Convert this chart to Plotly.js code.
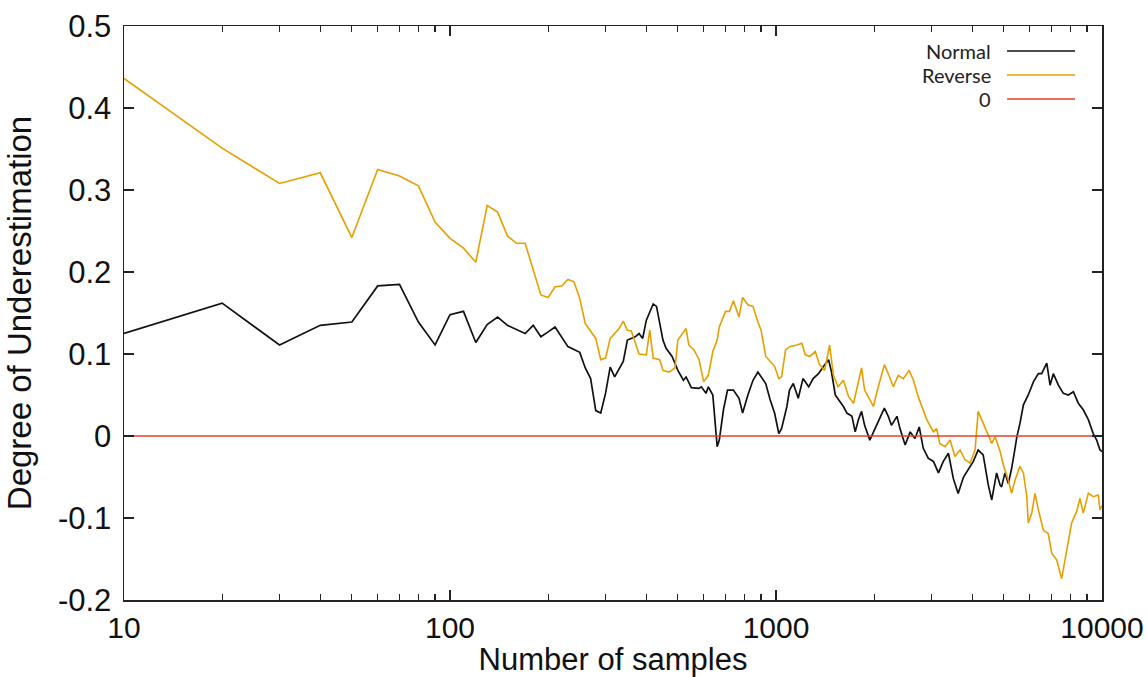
<!DOCTYPE html>
<html>
<head>
<meta charset="utf-8">
<script src="https://cdn.plot.ly/plotly-3.0.1.min.js"></script>
<style>
  html, body { margin: 0; padding: 0; background: #ffffff; }
  #chart { width: 1147px; height: 677px; }
</style>
</head>
<body>
<div id="chart"></div>
<script>
// ---- data ----
const seriesNames = ['Normal', 'Reverse', '0'];

const normalX = [10,20,30,40,50,60,70,80,90,100,
  110,120,130,140,150,160,170,180,190,200,
  210,230,250,260,270,280,290,300,310,320,
  340,350,370,380,390,400,420,430,450,460,
  480,500,520,530,550,580,590,610,620,640,
  660,670,690,710,740,770,790,820,850,880,
  900,930,960,990,1020,1040,1080,1100,1130,1170,
  1210,1260,1300,1350,1400,1450,1480,1520,1570,1610,
  1650,1710,1750,1790,1830,1870,1940,2010,2080,2150,
  2210,2260,2350,2400,2490,2580,2670,2750,2830,2930,
  3040,3150,3260,3380,3500,3620,3760,3890,4030,4170,
  4320,4480,4590,4750,4870,4920,5040,5160,5280,5410,
  5480,5600,5740,5940,6160,6380,6530,6770,6930,7090,
  7350,7610,7880,8170,8460,8760,9080,9400,9630,9860,10000];
const normalY = [0.125,0.162,0.111,0.135,0.139,0.183,0.185,0.139,0.111,0.148,
  0.152,0.114,0.136,0.145,0.135,0.130,0.125,0.135,0.121,0.127,
  0.133,0.109,0.102,0.083,0.070,0.031,0.028,0.052,0.084,0.072,
  0.091,0.117,0.121,0.125,0.119,0.141,0.161,0.158,0.117,0.107,
  0.097,0.080,0.068,0.072,0.059,0.058,0.060,0.052,0.060,0.050,
  -0.013,-0.005,0.032,0.056,0.056,0.046,0.028,0.050,0.068,0.078,
  0.072,0.064,0.044,0.028,0.003,0.009,0.036,0.056,0.064,0.046,
  0.070,0.060,0.070,0.076,0.085,0.093,0.078,0.050,0.042,0.036,
  0.028,0.024,0.005,0.020,0.030,0.013,-0.005,0.009,0.022,0.034,
  0.024,0.013,0.024,0.009,-0.011,0.005,-0.003,0.011,-0.015,-0.027,
  -0.031,-0.045,-0.031,-0.021,-0.052,-0.070,-0.050,-0.041,-0.031,-0.017,
  -0.023,-0.060,-0.078,-0.045,-0.060,-0.062,-0.045,-0.058,-0.040,-0.015,
  -0.001,0.015,0.038,0.050,0.066,0.076,0.076,0.089,0.062,0.076,
  0.062,0.052,0.050,0.054,0.040,0.032,0.020,0.003,-0.005,-0.017,-0.019];

const reverseX = [10,20,30,40,50,60,70,80,90,100,
  110,120,130,140,150,160,170,180,190,200,
  210,220,230,240,250,260,280,290,300,310,
  330,340,350,360,380,400,410,420,440,450,
  470,490,500,530,540,560,580,600,620,640,
  660,670,700,720,740,770,790,820,850,880,
  900,930,960,990,1020,1040,1070,1100,1160,1200,
  1230,1270,1320,1360,1410,1460,1500,1550,1610,1670,
  1730,1790,1830,1870,1940,1990,2040,2110,2150,2210,
  2290,2370,2460,2560,2640,2730,2830,2900,3040,3110,
  3180,3300,3420,3540,3670,3800,3940,4080,4170,4320,
  4430,4590,4700,4870,4980,5160,5280,5410,5600,5740,
  5880,5940,6090,6230,6380,6610,6840,7010,7260,7520,
  7700,7880,8070,8360,8560,8760,9080,9400,9740,9860,10000];
const reverseY = [0.436,0.351,0.308,0.321,0.242,0.325,0.317,0.305,0.261,0.241,
  0.229,0.212,0.281,0.273,0.244,0.235,0.235,0.202,0.172,0.169,
  0.182,0.183,0.191,0.188,0.168,0.137,0.119,0.093,0.095,0.119,
  0.131,0.140,0.129,0.128,0.100,0.099,0.129,0.095,0.093,0.080,
  0.078,0.083,0.117,0.131,0.111,0.105,0.094,0.066,0.074,0.103,
  0.117,0.133,0.152,0.152,0.165,0.145,0.169,0.160,0.158,0.139,
  0.129,0.097,0.091,0.085,0.070,0.072,0.105,0.109,0.111,0.113,
  0.099,0.097,0.103,0.087,0.080,0.111,0.074,0.060,0.068,0.048,
  0.040,0.066,0.083,0.056,0.044,0.036,0.054,0.076,0.087,0.076,
  0.060,0.074,0.070,0.080,0.068,0.048,0.032,0.020,0.005,0.009,
  -0.009,-0.013,-0.005,-0.025,-0.017,-0.029,-0.033,-0.017,0.030,0.015,
  0.005,-0.009,-0.001,-0.019,-0.035,-0.054,-0.070,-0.054,-0.037,-0.045,
  -0.074,-0.106,-0.094,-0.070,-0.090,-0.115,-0.119,-0.143,-0.151,-0.174,
  -0.151,-0.127,-0.106,-0.092,-0.076,-0.094,-0.070,-0.074,-0.072,-0.090,-0.085];

const zeroX = [10, 10000];
const zeroY = [0, 0];

const xTickVals = [10, 100, 1000, 10000];
const xTickText = ['10', '100', '1000', '10000'];
const yTickVals = [-0.2, -0.1, 0, 0.1, 0.2, 0.3, 0.4, 0.5];
const yTickText = ['-0.2', '-0.1', '0', '0.1', '0.2', '0.3', '0.4', '0.5'];

const colors = ['#111111', '#e69f00', '#ec3b2f'];

// minor tick positions on the log axis (2..9 in every decade)
const xMinor = [];
[10, 100, 1000].forEach(d => { for (let k = 2; k <= 9; k++) xMinor.push(k * d); });

const traces = [
  { x: normalX, y: normalY, name: seriesNames[0], type: 'scatter', mode: 'lines',
    line: { color: colors[0], width: 1.7 } },
  { x: reverseX, y: reverseY, name: seriesNames[1], type: 'scatter', mode: 'lines',
    line: { color: colors[1], width: 1.6 } },
  { x: zeroX, y: zeroY, name: seriesNames[2], type: 'scatter', mode: 'lines',
    line: { color: colors[2], width: 1.6 } }
];

// custom legend (text then line, right-aligned like gnuplot)
const legRowsY = [0.9564, 0.9146, 0.8728];
const annotations = seriesNames.map((n, i) => ({
  xref: 'paper', yref: 'paper', x: 0.8875, y: legRowsY[i],
  xanchor: 'right', yanchor: 'middle', text: n, showarrow: false,
  borderpad: 0,
  font: { family: 'Lato, "Open Sans", sans-serif', size: 20, color: '#222' }
}));
const shapes = seriesNames.map((n, i) => ({
  type: 'line', xref: 'paper', yref: 'paper',
  x0: 0.9029, x1: 0.9724, y0: legRowsY[i], y1: legRowsY[i],
  line: { color: colors[i], width: 1.6 }
}));

const axisFont = 'Liberation Sans, Arial, Helvetica, sans-serif';

const layout = {
  width: 1147, height: 677,
  margin: { l: 124, r: 45, t: 26, b: 77, pad: 0 },
  paper_bgcolor: '#ffffff', plot_bgcolor: '#ffffff',
  showlegend: false,
  xaxis: {
    type: 'log', range: [1, 4],
    tickvals: xTickVals, ticktext: xTickText,
    ticks: 'inside', ticklen: 10, tickwidth: 1.2, tickcolor: '#222',
    minor: { tickvals: xMinor, ticks: 'inside', ticklen: 6, tickwidth: 1.2, tickcolor: '#222', showgrid: false },
    showline: true, linecolor: '#222', linewidth: 1.5, mirror: 'ticks',
    showgrid: false, zeroline: false,
    tickfont: { family: axisFont, size: 30, color: '#111' },
    title: { text: 'Number of samples', font: { family: axisFont, size: 31, color: '#111' }, standoff: 8 }
  },
  yaxis: {
    range: [-0.2, 0.5],
    tickvals: yTickVals, ticktext: yTickText,
    ticks: 'inside', ticklen: 10, tickwidth: 1.2, tickcolor: '#222',
    showline: true, linecolor: '#222', linewidth: 1.5, mirror: 'ticks',
    showgrid: false, zeroline: false,
    ticklabelstandoff: 5,
    tickfont: { family: axisFont, size: 31, color: '#111' },
    title: { text: 'Degree of Underestimation', font: { family: axisFont, size: 33, color: '#111' }, standoff: 16 }
  },
  annotations: annotations,
  shapes: shapes
};

Plotly.newPlot('chart', traces, layout, { staticPlot: true, displayModeBar: false });
</script>
</body>
</html>
